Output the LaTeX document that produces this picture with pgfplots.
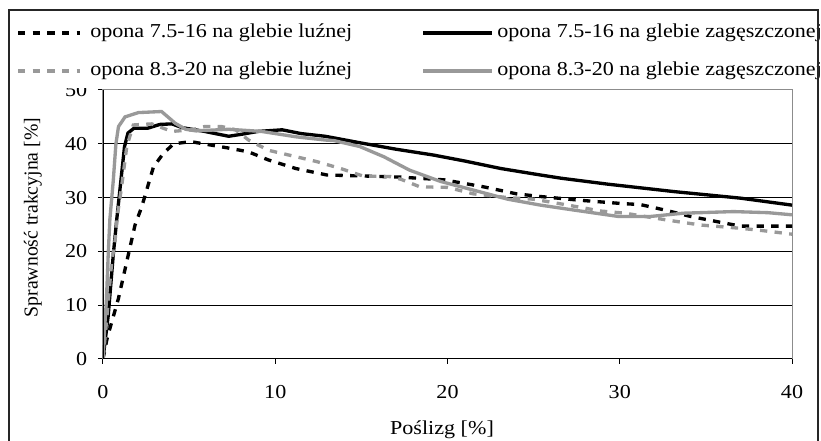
\documentclass[border=0pt]{standalone}
\usepackage{fontspec}
\setmainfont{Liberation Serif}[FakeStretch=1.12]
\newfontfamily\plainserif{Liberation Serif}
\usepackage{pgfplots}
\pgfplotsset{compat=1.18}
\definecolor{lgray}{gray}{0.6}
\definecolor{axgray}{gray}{0.55}
\newcommand\PX[2]{({(#1)*0.75pt},{(441-(#2))*0.75pt})}
\begin{document}
\fontsize{14.8}{17}\selectfont
\begin{tikzpicture}
\useasboundingbox (0,0) rectangle (615.75pt,330.75pt);
\begin{axis}[
  name=ax,
  at={(77.25pt,61.5pt)}, anchor=south west, scale only axis,
  width=516.75pt, height=201.75pt,
  xmin=0, xmax=40, ymin=0, ymax=50,
  xtick={0,10,20,30,40}, ytick={0,10,20,30,40,50},
  tick pos=left, tick align=outside, major tick length=3.75pt,
  tick style={black, line width=0.75pt},
  axis line style={draw=axgray, line width=0.75pt},
  ymajorgrids, grid style={black, line width=0.75pt},
  /pgf/number format/assume math mode=true,
  xticklabel style={yshift=-11pt},
  yticklabel style={xshift=-3pt},
  xlabel={Poślizg [\%]},
  xlabel style={at={(axis description cs:0.492,-0.264)}, anchor=center},
  ylabel={\plainserif Sprawność trakcyjna [\%]},
  ylabel style={at={(axis description cs:-0.1016,0.526)}, anchor=center},
]
% opona 7.5-16 na glebie luznej
\addplot[black, line width=2.5pt, dash pattern=on 5.5pt off 5.5pt] coordinates {
(0,0) (0.25,4) (0.6,7.9) (0.9,11.3) (1.38,18.1) (1.86,24.9) (2.25,28.3) (2.93,35.7) (3.5,38.2) (4.1,40.0) (5.1,40.4) (6.2,39.8) (7.3,39.2) (8.45,38.5) (9.6,37.0) (11.2,35.4) (13.0,34.2) (15.3,34.0) (17.3,33.8) (19.8,33.3) (22.1,32.0) (24.0,30.7) (25.4,30.2) (27.7,29.5) (30.1,28.9) (31.2,28.7) (32.6,27.7) (34.1,26.5) (35.7,25.5) (37.0,24.7) (40,24.7)
};
% opona 7.5-16 na glebie zageszczonej
\addplot[black, line width=2.5pt] coordinates {
(0,0) (0.3,8) (0.6,19.5) (0.8,26) (1.0,32) (1.25,39.5) (1.45,42) (1.8,42.9) (2.6,42.9) (3.3,43.6) (4.0,43.7) (4.6,43.0) (5.9,42.3) (7.3,41.4) (8.1,41.8) (9.0,42.3) (10.4,42.6) (11.5,41.9) (12.9,41.4) (14.9,40.2) (17,39) (19.2,37.9) (21,36.8) (23.1,35.4) (25.4,34.2) (26.6,33.6) (29.3,32.5) (33.2,31.1) (37.0,29.9) (40,28.6)
};
% opona 8.3-20 na glebie luznej
\addplot[lgray, line width=2.5pt, dash pattern=on 5.5pt off 5.5pt] coordinates {
(0,0) (0.15,5) (0.31,11) (0.5,17.8) (0.7,22) (0.85,27) (1.08,32) (1.38,39.5) (1.76,43.5) (2.83,43.7) (4.0,42.3) (5.15,42.6) (5.9,43.2) (6.9,43.2) (7.7,42.6) (8.45,40.7) (9.6,38.8) (11.2,37.6) (12.4,36.7) (13.8,35.4) (15.1,34.0) (16.7,33.9) (17.3,33.4) (18.4,32.0) (20.0,31.9) (21.5,30.7) (23.5,30.0) (25.0,29.7) (27.0,28.6) (28.9,27.5) (30.3,27.1) (32.8,25.8) (34.7,24.9) (37.0,24.3) (38.2,23.9) (40,23.2)
};
% opona 8.3-20 na glebie zageszczonej
\addplot[lgray, line width=2.5pt] coordinates {
(0,0) (0.1,6) (0.2,11) (0.31,20) (0.4,26) (0.6,33.3) (0.75,40) (0.9,43.2) (1.28,45.0) (2.05,45.8) (3.4,46.0) (4.2,43.8) (4.8,42.7) (5.4,42.4) (7.3,42.7) (9.2,42.3) (11.2,41.3) (12.9,40.7) (13.4,40.6) (14.9,39.5) (16.3,37.6) (17.8,35.1) (19.6,33.0) (21.5,31.4) (23.5,29.7) (25.4,28.6) (27.3,27.7) (29.9,26.5) (31.8,26.5) (33.7,27.1) (36.6,27.4) (38.6,27.2) (40,26.8)
};
\end{axis}
\draw[black, line width=0.75pt] (ax.north west) -- (ax.south west) -- (ax.south east);
% legend area
\fill[white] \PX{10.5}{11.5} rectangle \PX{816.5}{88};
\draw[black, line width=2.5pt, dash pattern=on 5.5pt off 5.5pt] \PX{18}{33} -- \PX{80}{33};
\node[anchor=west, inner sep=0pt] at \PX{90}{33} {opona 7.5-16 na glebie luźnej};
\draw[black, line width=2.5pt] \PX{423}{33} -- \PX{492}{33};
\node[anchor=west, inner sep=0pt] at \PX{497}{33} {opona 7.5-16 na glebie zagęszczonej};
\draw[lgray, line width=2.5pt, dash pattern=on 5.5pt off 5.5pt] \PX{18}{71} -- \PX{80}{71};
\node[anchor=west, inner sep=0pt] at \PX{90}{71} {opona 8.3-20 na glebie luźnej};
\draw[lgray, line width=2.5pt] \PX{423}{71} -- \PX{492}{71};
\node[anchor=west, inner sep=0pt] at \PX{497}{71} {opona 8.3-20 na glebie zagęszczonej};
% outer frame
\draw[black!85, line width=0.9pt] \PX{9}{450} -- \PX{9}{10} -- \PX{818}{10} -- \PX{818}{450};
\end{tikzpicture}
\end{document}
